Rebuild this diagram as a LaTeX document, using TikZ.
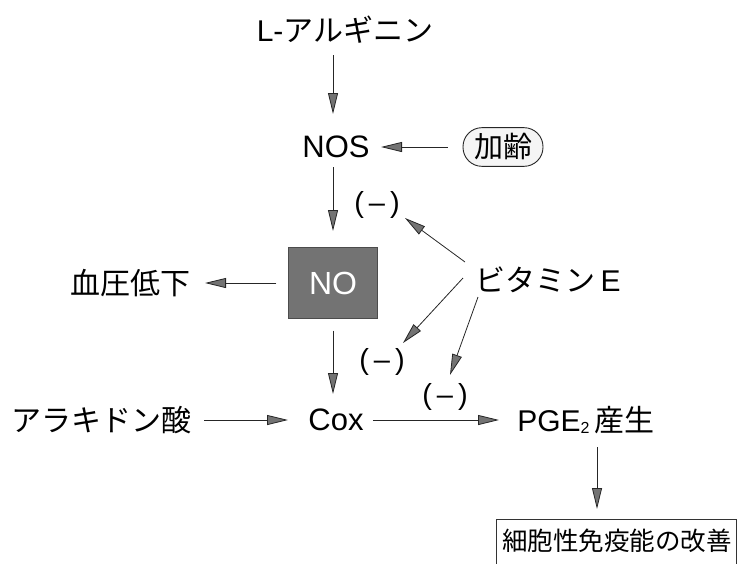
\documentclass[tikz,border=0pt]{standalone}
\usepackage{fontspec}
\setmainfont{Noto Sans CJK JP}
\newfontfamily\lat{Liberation Sans}
\usetikzlibrary{arrows.meta}
\begin{document}
\begin{tikzpicture}[x=1pt,y=-1pt,
  lbl/.style={inner sep=0pt, font=\fontsize{30}{32}\selectfont},
  mlbl/.style={inner sep=0pt, font=\fontsize{29}{30}\selectfont\lat},
  arr/.style={draw=black!85, line width=0.8pt, -{Triangle[length=21pt,width=10pt,fill=black!55]}}
]
\useasboundingbox (0,0) rectangle (738,563);
% nodes
\node[lbl] (arg) at (345,30) {{\lat L-}アルギニン};
\node[lbl, font=\fontsize{31}{32}\selectfont\lat] (nos) at (336,147) {NOS};
\node[lbl, draw=black!85, line width=0.9pt, rounded corners=19pt, fill=black!4, inner xsep=11pt, inner ysep=6pt, font=\fontsize{29}{30}\selectfont] (age) at (503,147) {加齢};
\node[draw=black!70, fill=black!55, minimum width=89pt, minimum height=71pt, inner sep=0pt, text=white, font=\fontsize{32}{34}\selectfont\lat] (no) at (333,283) {NO};
\node[lbl] (bp) at (130,283) {血圧低下};
\node[lbl] (vite) at (548,280) {ビタミン{\lat\,E}};
\node[lbl] (ara) at (101,420) {アラキドン酸};
\node[lbl, font=\fontsize{31}{32}\selectfont\lat] (cox) at (336,420) {Cox};
\node[lbl] (pge) at (586,420) {{\lat PGE}\raisebox{-0.1ex}{\fontsize{16}{17}\selectfont\lat 2}\,産生};
\node[lbl, font=\fontsize{25.5}{28}\selectfont] (imm) at (617,541) {細胞性免疫能の改善};
\node[mlbl] (m1) at (377,205) {(\hspace{5pt}–\hspace{5pt})};
\node[mlbl] (m2) at (382,362) {(\hspace{5pt}–\hspace{5pt})};
\node[mlbl] (m3) at (445,397) {(\hspace{5pt}–\hspace{5pt})};
% box around bottom text (cut at picture edge)
\draw[black!80, line width=1pt] (496,575) -- (496,519) -- (736,519) -- (736,575);
% connectors
\draw[arr] (333,55) -- (333,114);
\draw[arr] (age.west) ++(-15,0) -- (381,147);
\draw[arr] (333,167) -- (333,231);
\draw[arr] (no.west) ++(-12,0) -- (205,283);
\draw[arr] (no.south) ++(0,12) -- (333,394);
\draw[arr] (ara.east) ++(13,0) -- (288,420);
\draw[arr] (cox.east) ++(9,0) -- (499,420);
\draw[arr] (597,447) -- (597,509);
\draw[arr] (465,262) -- (405,218);
\draw[arr] (463,278) -- (403,343);
\draw[arr] (478,297) -- (450,375);
\end{tikzpicture}
\end{document}
